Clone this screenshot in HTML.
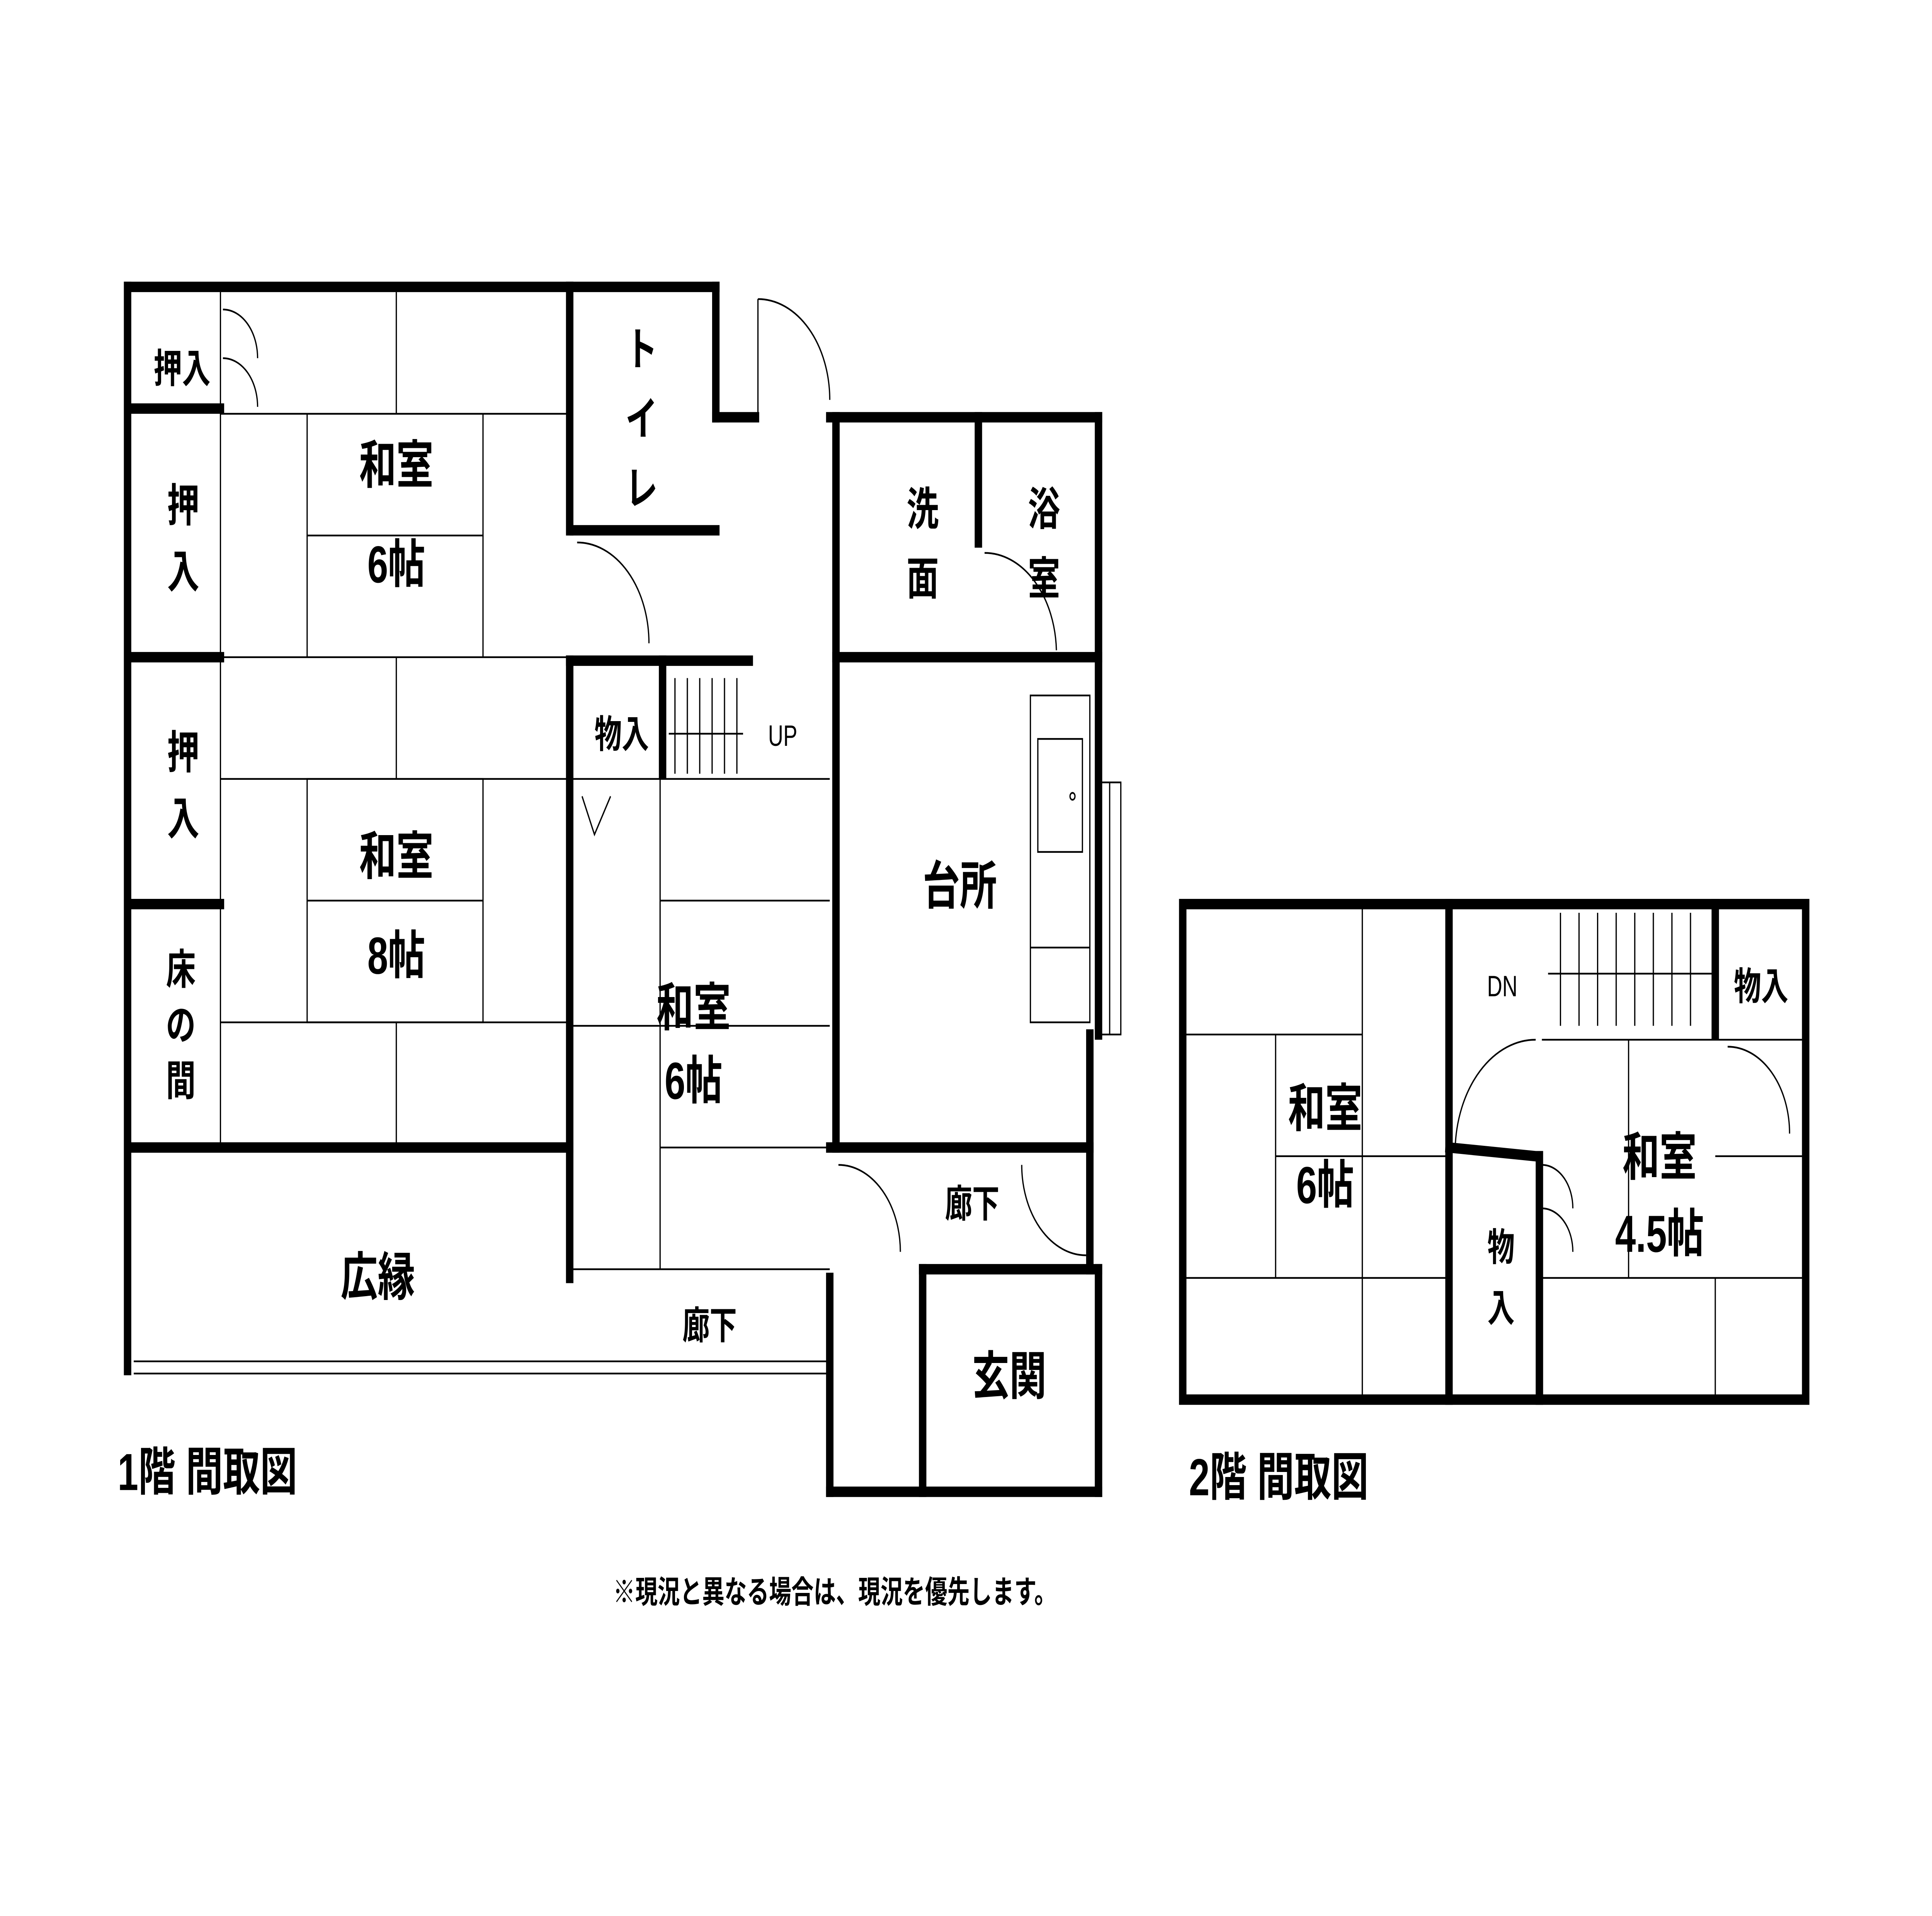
<!DOCTYPE html>
<html><head><meta charset="utf-8"><style>
html,body{margin:0;padding:0;background:#fff;width:100%;height:100%;overflow:hidden;}
svg{display:block;width:100vw;height:100vh;}
text{font-family:"Liberation Sans","Noto Sans CJK JP",sans-serif;fill:#000;}
</style></head><body>
<svg viewBox="0 0 1560 1102" preserveAspectRatio="none" xmlns="http://www.w3.org/2000/svg">
<rect width="1560" height="1102" fill="#fff"/>
<g stroke="#000" stroke-width="1" fill="none">
<line x1="178" y1="238" x2="460" y2="238"/>
<line x1="320" y1="168" x2="320" y2="238"/>
<rect x="248" y="238" width="142" height="70"/>
<line x1="248" y1="308" x2="248" y2="378"/><line x1="390" y1="308" x2="390" y2="378"/>
<line x1="178" y1="378" x2="460" y2="378"/>
<line x1="178" y1="448" x2="460" y2="448"/>
<line x1="320" y1="378" x2="320" y2="448"/>
<rect x="248" y="448" width="142" height="140"/>
<line x1="248" y1="518" x2="390" y2="518"/>
<line x1="178" y1="588" x2="460" y2="588"/>
<line x1="320" y1="588" x2="320" y2="660"/>
<line x1="178" y1="168" x2="178" y2="660"/>
<line x1="533" y1="448" x2="533" y2="730"/>
<line x1="533" y1="518" x2="670" y2="518"/>
<line x1="463" y1="590" x2="670" y2="590"/>
<line x1="533" y1="660" x2="670" y2="660"/>
<line x1="463" y1="730" x2="670" y2="730"/>
<line x1="463" y1="448" x2="670" y2="448"/>
<line x1="108" y1="783" x2="668" y2="783"/><line x1="108" y1="790" x2="668" y2="790"/>
<rect x="832" y="400" width="48" height="188"/>
<rect x="838" y="425" width="36" height="65"/>
<circle cx="866" cy="458" r="2"/>
<line x1="832" y1="545" x2="880" y2="545"/>
<rect x="887" y="450" width="18" height="145"/>
<line x1="896" y1="450" x2="896" y2="595"/>
<g><line x1="545" y1="390" x2="545" y2="445"/><line x1="555" y1="390" x2="555" y2="445"/><line x1="565" y1="390" x2="565" y2="445"/><line x1="575" y1="390" x2="575" y2="445"/><line x1="585" y1="390" x2="585" y2="445"/><line x1="595" y1="390" x2="595" y2="445"/>
<line x1="540" y1="422" x2="600" y2="422"/></g>
<line x1="1100" y1="523" x2="1100" y2="805"/>
<line x1="958" y1="595" x2="1100" y2="595"/>
<line x1="1030" y1="595" x2="1030" y2="735"/>
<line x1="1030" y1="665" x2="1168" y2="665"/>
<line x1="958" y1="735" x2="1168" y2="735"/>
<line x1="1315" y1="598" x2="1315" y2="735"/>
<line x1="1385" y1="665" x2="1455" y2="665"/>
<line x1="1245" y1="735" x2="1455" y2="735"/>
<line x1="1385" y1="735" x2="1385" y2="805"/>
<g><line x1="1260" y1="525" x2="1260" y2="590"/><line x1="1275" y1="525" x2="1275" y2="590"/><line x1="1290" y1="525" x2="1290" y2="590"/><line x1="1305" y1="525" x2="1305" y2="590"/><line x1="1320" y1="525" x2="1320" y2="590"/><line x1="1335" y1="525" x2="1335" y2="590"/><line x1="1350" y1="525" x2="1350" y2="590"/><line x1="1365" y1="525" x2="1365" y2="590"/>
<line x1="1250" y1="560" x2="1385" y2="560"/></g>
<line x1="1245" y1="598" x2="1455" y2="598"/>
<path d="M180 178 A28 28 0 0 1 208 206 M180 206 A28 28 0 0 1 208 234"/>
<path d="M612 172 A58 58 0 0 1 670 230"/><line x1="612" y1="172" x2="612" y2="238"/>
<path d="M466 312 A58 58 0 0 1 524 370"/>
<path d="M795 318 A58 58 0 0 1 853 374"/>
<path d="M677 670 A50 50 0 0 1 727 720"/>
<path d="M825 670 A52 52 0 0 0 877 722"/>
<path d="M1175 660 A65 65 0 0 1 1240 598"/>
<path d="M1395 602 A50 50 0 0 1 1445 652"/>
<path d="M1245 670 A25 25 0 0 1 1270 695 M1245 695 A25 25 0 0 1 1270 720"/>
<path d="M470 458 L480 480 L493 458"/>
</g>
<g stroke="#000" stroke-width="6" fill="none" stroke-linecap="square">
<line x1="103" y1="165" x2="460" y2="165"/>
<line x1="103" y1="165" x2="103" y2="788"/>
<line x1="103" y1="235" x2="178" y2="235"/>
<line x1="103" y1="378" x2="178" y2="378"/>
<line x1="103" y1="520" x2="178" y2="520"/>
<line x1="103" y1="660" x2="460" y2="660"/>
<line x1="460" y1="165" x2="460" y2="305"/>
<line x1="460" y1="380" x2="460" y2="735"/>
<line x1="460" y1="165" x2="578" y2="165"/>
<line x1="578" y1="165" x2="578" y2="240"/>
<line x1="463" y1="305" x2="578" y2="305"/>
<line x1="578" y1="240" x2="610" y2="240"/>
<line x1="670" y1="240" x2="887" y2="240"/>
<line x1="675" y1="240" x2="675" y2="660"/>
<line x1="790" y1="240" x2="790" y2="312"/>
<line x1="887" y1="240" x2="887" y2="595"/>
<line x1="675" y1="378" x2="887" y2="378"/>
<line x1="460" y1="380" x2="605" y2="380"/>
<line x1="535" y1="380" x2="535" y2="445"/>
<line x1="880" y1="595" x2="880" y2="730"/>
<line x1="670" y1="660" x2="880" y2="660"/>
<line x1="670" y1="735" x2="670" y2="858"/>
<line x1="670" y1="858" x2="887" y2="858"/>
<line x1="887" y1="730" x2="887" y2="858"/>
<line x1="745" y1="730" x2="887" y2="730"/>
<line x1="745" y1="730" x2="745" y2="858"/>
<rect x="955" y="520" width="503" height="285"/>
<line x1="1170" y1="520" x2="1170" y2="805"/>
<line x1="1385" y1="520" x2="1385" y2="595"/>
<line x1="1170" y1="660" x2="1240" y2="665"/>
<line x1="1243" y1="665" x2="1243" y2="805"/>
</g>
<g font-size="30" font-weight="bold" text-anchor="middle">
<text x="320" y="278">和室</text><text x="320" y="335">6帖</text>
<text x="320" y="503">和室</text><text x="320" y="560">8帖</text>
<text x="560" y="590">和室</text><text x="560" y="632">6帖</text>
<text x="775" y="520">台所</text>
<text x="305" y="745">広縁</text>
<text x="815" y="802">玄関</text>
<text x="1070" y="648">和室</text><text x="1070" y="692">6帖</text>
<text x="1340" y="676">和室</text><text x="1340" y="720">4.5帖</text>
</g>
<g font-size="26" font-weight="bold" text-anchor="middle">
<text x="147" y="220" font-size="23">押入</text>
<text x="148" y="300">押</text><text x="148" y="338">入</text>
<text x="148" y="442">押</text><text x="148" y="480">入</text>
<text x="146" y="566" font-size="24">床</text><text x="146" y="598" font-size="24">の</text><text x="146" y="630" font-size="24">間</text>
<text x="745" y="302">洗</text><text x="745" y="342">面</text>
<text x="843" y="302">浴</text><text x="843" y="342">室</text>
<text x="518" y="210">ト</text><text x="518" y="250">イ</text><text x="518" y="290">レ</text>
<text x="502" y="430" font-size="22">物入</text>
<text x="785" y="700" font-size="22">廊下</text>
<text x="573" y="770" font-size="22">廊下</text>
<text x="1422" y="575" font-size="22">物入</text>
<text x="1212" y="725" font-size="22">物</text><text x="1212" y="760" font-size="22">入</text>
<text x="632" y="429" font-size="17" font-weight="normal">UP</text>
<text x="1213" y="573" font-size="17" font-weight="normal">DN</text>
</g>
<text x="95" y="857" font-size="30" font-weight="bold">1階 間取図</text>
<text x="960" y="860" font-size="30" font-weight="bold">2階 間取図</text>
<text x="495" y="922" font-size="18" font-weight="bold">※現況と異なる場合は、現況を優先します。</text>
</svg>
</body></html>
